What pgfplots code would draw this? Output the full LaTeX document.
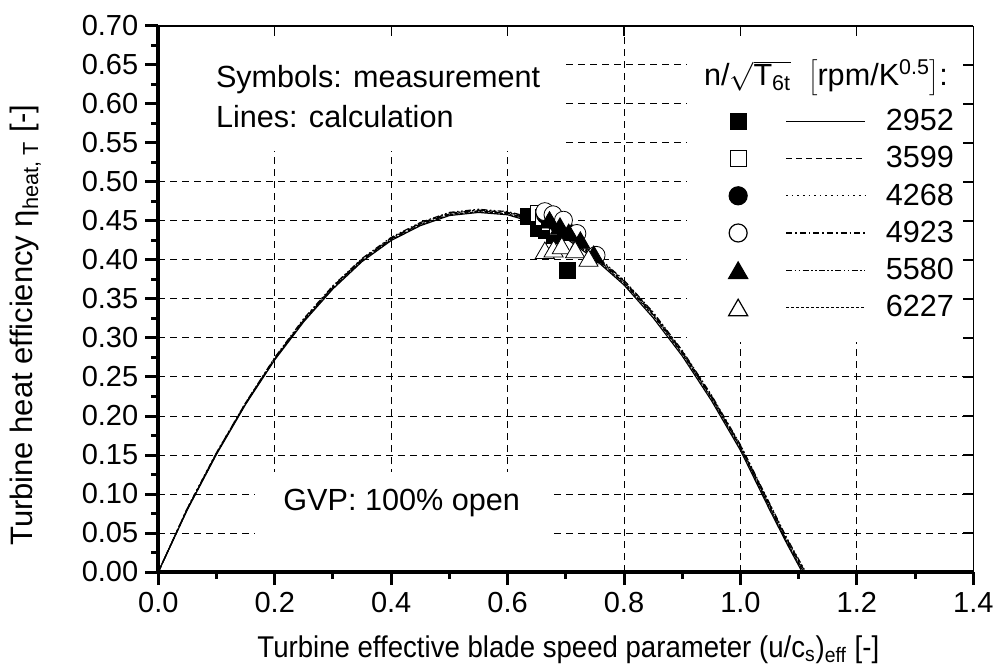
\documentclass[border=0pt]{standalone}
\usepackage{fontspec}
\setmainfont{Liberation Sans}
\usepackage{pgfplots}
\pgfplotsset{compat=1.18}
\newcommand\F{\fontsize{14.5}{17}\selectfont}
\newcommand\G{\fontsize{15.3}{18}\selectfont}
\pgfplotsset{
  base/.style={
    width=407.5pt, height=273pt, scale only axis,
    xmin=0, xmax=1.4, ymin=0, ymax=0.7,
    xtick={0,0.2,0.4,0.6,0.8,1.0,1.2,1.4},
    ytick={0,0.05,0.1,0.15,0.2,0.25,0.3,0.35,0.4,0.45,0.5,0.55,0.6,0.65,0.7},
    at={(0,0)}, anchor=south west,
  },
  curve/.style={black, line width=0.6pt, no markers},
  legimg/.style n args={4}{legend image code/.code={
     \draw[mark=#1, mark size=#2, mark options={solid, fill=#3, draw=black, line width=0.6pt}] plot coordinates {(0pt,#4)};
     \draw[##1] (24pt,0.9pt) -- (63.5pt,0.9pt);}},
}
\begin{document}
\begin{tikzpicture}
\useasboundingbox (-79.15pt,-48.5pt) rectangle (420.35pt,286pt);
% ---------- grid, boxes, data ----------
\begin{axis}[base,
  axis line style={draw=none}, major tick length=0pt, minor tick length=0pt,
  xticklabels={}, yticklabels={},
  grid=major, major grid style={black, line width=0.5pt, dash pattern=on 3.5pt off 2.5pt},
  legend style={at={(axis cs:0.979,0.5945)}, anchor=north west, draw=none, fill=none,
    inner sep=0pt, row sep=4.1pt, font=\G,
    nodes={inner sep=0pt, text height=11pt, text depth=3.5pt},
    /tikz/every odd column/.append style={column sep=10pt}},
  legend cell align=left,
]
\fill[white] (axis cs:0,0.54) rectangle (axis cs:0.695,0.7);
\fill[white] (axis cs:0.166,0) rectangle (axis cs:0.673,0.1286);
\fill[white] (axis cs:0.908,0.295) rectangle (axis cs:1.4,0.7);

\addplot[curve, solid, legimg={square*}{4pt}{black}{0.9pt}] coordinates {
(0.00,0.000) (0.05,0.080) (0.10,0.151) (0.15,0.215) (0.20,0.272) (0.25,0.321)
(0.30,0.363) (0.35,0.398) (0.40,0.425) (0.45,0.444) (0.50,0.457) (0.55,0.461)
(0.60,0.458) (0.65,0.447) (0.70,0.428) (0.75,0.401) (0.80,0.368) (0.85,0.326)
(0.90,0.277) (0.95,0.220) (1.00,0.156) (1.05,0.080) (1.08,0.036) (1.106,0.000)};
\addlegendentry{2952}

\addplot[curve, dash pattern=on 3pt off 2pt, legimg={square*}{4pt}{white}{0.9pt}] coordinates {
(0.00,0.000) (0.05,0.081) (0.10,0.152) (0.15,0.216) (0.20,0.273) (0.25,0.323)
(0.30,0.365) (0.35,0.400) (0.40,0.427) (0.45,0.446) (0.50,0.459) (0.55,0.463)
(0.60,0.460) (0.65,0.450) (0.70,0.431) (0.75,0.404) (0.80,0.371) (0.85,0.330)
(0.90,0.281) (0.95,0.224) (1.00,0.160) (1.05,0.084) (1.08,0.039) (1.109,0.000)};
\addlegendentry{3599}

\addplot[curve, dash pattern=on 0.8pt off 2pt, legimg={*}{4.5pt}{black}{0.9pt}] coordinates {
(0.00,0.000) (0.05,0.082) (0.10,0.153) (0.15,0.217) (0.20,0.274) (0.25,0.324)
(0.30,0.366) (0.35,0.401) (0.40,0.428) (0.45,0.447) (0.50,0.460) (0.55,0.464)
(0.60,0.461) (0.65,0.451) (0.70,0.432) (0.75,0.405) (0.80,0.372) (0.85,0.331)
(0.90,0.282) (0.95,0.225) (1.00,0.161) (1.05,0.086) (1.08,0.041) (1.110,0.000)};
\addlegendentry{4268}

\addplot[curve, dash pattern=on 3pt off 1.5pt on 0.8pt off 1.5pt, legimg={*}{4.5pt}{white}{0.9pt}] coordinates {
(0.00,0.000) (0.05,0.081) (0.10,0.152) (0.15,0.216) (0.20,0.274) (0.25,0.323)
(0.30,0.366) (0.35,0.401) (0.40,0.428) (0.45,0.447) (0.50,0.460) (0.55,0.464)
(0.60,0.461) (0.65,0.452) (0.70,0.433) (0.75,0.406) (0.80,0.373) (0.85,0.332)
(0.90,0.283) (0.95,0.226) (1.00,0.162) (1.05,0.087) (1.08,0.042) (1.111,0.000)};
\addlegendentry{4923}

\addplot[curve, dash pattern=on 3pt off 1.2pt on 0.8pt off 1.2pt on 0.8pt off 1.2pt, legimg={triangle*}{5.5pt}{black}{-0.5pt}] coordinates {
(0.00,0.000) (0.05,0.082) (0.10,0.153) (0.15,0.217) (0.20,0.275) (0.25,0.325)
(0.30,0.367) (0.35,0.402) (0.40,0.429) (0.45,0.448) (0.50,0.461) (0.55,0.465)
(0.60,0.462) (0.65,0.453) (0.70,0.434) (0.75,0.407) (0.80,0.374) (0.85,0.333)
(0.90,0.284) (0.95,0.227) (1.00,0.163) (1.05,0.088) (1.08,0.043) (1.112,0.000)};
\addlegendentry{5580}

\addplot[curve, dash pattern=on 1.5pt off 1pt, legimg={triangle*}{5.5pt}{white}{-0.5pt}] coordinates {
(0.00,0.000) (0.05,0.081) (0.10,0.152) (0.15,0.216) (0.20,0.273) (0.25,0.322)
(0.30,0.364) (0.35,0.399) (0.40,0.426) (0.45,0.445) (0.50,0.458) (0.55,0.462)
(0.60,0.459) (0.65,0.449) (0.70,0.430) (0.75,0.403) (0.80,0.370) (0.85,0.329)
(0.90,0.280) (0.95,0.223) (1.00,0.159) (1.05,0.083) (1.08,0.038) (1.108,0.000)};
\addlegendentry{6227}

% measurements
\addplot[forget plot, only marks, mark=square*, mark size=4pt, mark options={fill=black, draw=black}] coordinates {
(0.636,0.456) (0.653,0.441) (0.667,0.438) (0.680,0.432) (0.702,0.387)};
\addplot[forget plot, only marks, mark=square*, mark size=4pt, mark options={fill=white, draw=black}] coordinates {
(0.653,0.460) (0.662,0.455) (0.672,0.448) (0.685,0.442)};
\addplot[forget plot, only marks, mark=*, mark size=4.5pt, mark options={fill=black, draw=black}] coordinates {
(0.665,0.458) (0.675,0.452) (0.688,0.445) (0.700,0.437)};
\addplot[forget plot, only marks, mark=*, mark size=4.5pt, mark options={fill=white, draw=black}] coordinates {
(0.664,0.462) (0.678,0.458) (0.696,0.451) (0.719,0.434) (0.752,0.406)};
\addplot[forget plot, only marks, mark=triangle*, mark size=5.5pt, mark options={fill=black, draw=black}] coordinates {
(0.672,0.448) (0.690,0.440) (0.705,0.432) (0.725,0.422) (0.748,0.404)};
\addplot[forget plot, only marks, mark=triangle*, mark size=5.5pt, mark options={fill=white, draw=black}] coordinates {
(0.664,0.409) (0.679,0.411) (0.693,0.415) (0.716,0.410) (0.739,0.399)};

\node[anchor=west, font=\G] at (axis cs:0.087,0.6317) {Symbols: measurement};
\node[anchor=west, font=\G] at (axis cs:0.087,0.5837) {Lines: calculation};
\node[font=\G] at (axis cs:0.418,0.088) {GVP: 100\% open};
\node[anchor=base west, font=\G] at (axis cs:0.9253,0.624)
  {n/$\sqrt{\mbox{T\textsubscript{6t}}}$\ \ $\left[\mbox{rpm/K\textsuperscript{0.5}}\right]$:};
\end{axis}
% ---------- bottom / left axes ----------
\begin{axis}[base,
  axis x line=bottom, axis y line=left,
  axis line style={-, line width=2pt, black},
  tick align=outside, major tick length=6.5pt, minor tick length=3.5pt,
  tick style={black, line width=1.5pt},
  minor x tick num=1, minor y tick num=1,
  tick label style={font=\F},
  xticklabel style={/pgf/number format/.cd, fixed, fixed zerofill, precision=1, assume math mode=true},
  yticklabel style={/pgf/number format/.cd, fixed, fixed zerofill, precision=2, assume math mode=true},
]
\end{axis}
% ---------- top / right axes ----------
\begin{axis}[base,
  axis x line=top, axis y line=right,
  axis line style={-, line width=0.6pt, black},
  tick align=inside, major tick length=5pt,
  tick style={black, line width=0.6pt},
  xticklabels={}, yticklabels={},
]
\end{axis}
\node[rotate=90, font=\fontsize{15.5}{18}\selectfont] at (-66.5pt,123.3pt) {Turbine heat efficiency η\textsubscript{heat, T} [-]};
\node[anchor=base, xscale=0.92, font=\fontsize{15}{18}\selectfont] at (205pt,-42.5pt) {Turbine effective blade speed parameter (u/c\textsubscript{s})\textsubscript{eff} [-]};
\end{tikzpicture}
\end{document}
